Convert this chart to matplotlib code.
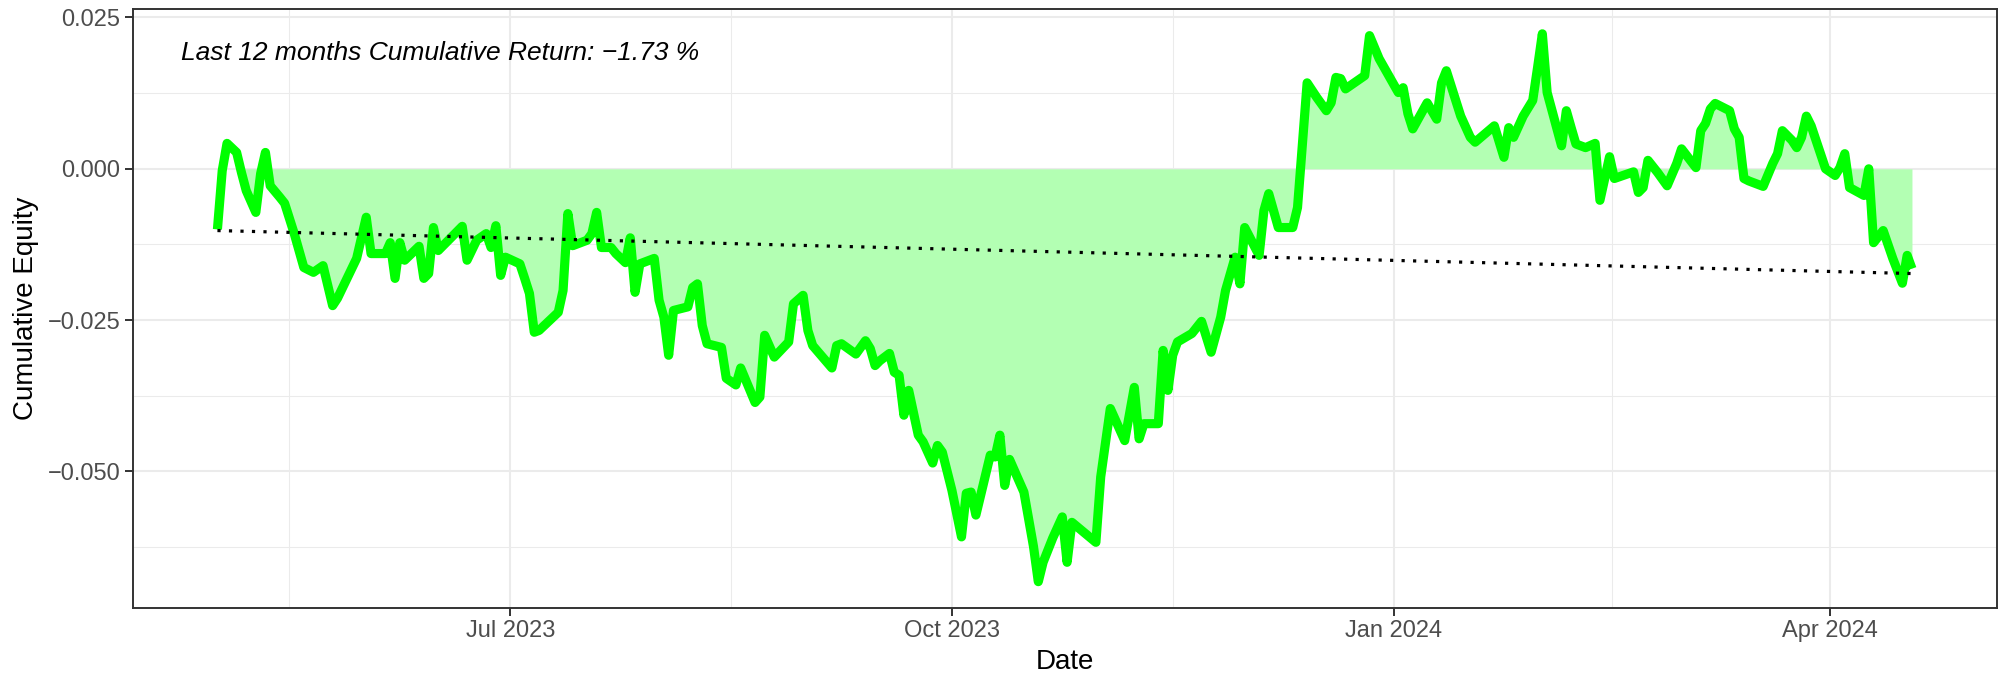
import matplotlib
matplotlib.use("Agg")
import matplotlib.pyplot as plt
import numpy as np
import pandas as pd

# ---------------- data ----------------
dates = [
    "2023-05-01", "2023-05-02", "2023-05-03", "2023-05-05", "2023-05-06", "2023-05-07",
    "2023-05-09", "2023-05-10", "2023-05-11", "2023-05-12", "2023-05-14", "2023-05-15",
    "2023-05-17", "2023-05-19", "2023-05-21", "2023-05-23", "2023-05-25", "2023-05-26",
    "2023-05-30", "2023-06-01", "2023-06-02", "2023-06-05", "2023-06-06", "2023-06-07",
    "2023-06-08", "2023-06-09", "2023-06-12", "2023-06-13", "2023-06-14", "2023-06-15",
    "2023-06-16", "2023-06-21", "2023-06-22", "2023-06-24", "2023-06-26", "2023-06-27",
    "2023-06-28", "2023-06-29", "2023-06-30", "2023-07-03", "2023-07-04", "2023-07-05",
    "2023-07-06", "2023-07-07", "2023-07-11", "2023-07-12", "2023-07-13", "2023-07-14",
    "2023-07-17", "2023-07-18", "2023-07-19", "2023-07-20", "2023-07-22", "2023-07-23",
    "2023-07-25", "2023-07-26", "2023-07-27", "2023-07-28", "2023-07-31", "2023-08-01",
    "2023-08-02", "2023-08-03", "2023-08-04", "2023-08-07", "2023-08-08", "2023-08-09",
    "2023-08-10", "2023-08-11", "2023-08-14", "2023-08-15", "2023-08-17", "2023-08-18",
    "2023-08-21", "2023-08-22", "2023-08-23", "2023-08-25", "2023-08-28", "2023-08-29",
    "2023-08-31", "2023-09-01", "2023-09-02", "2023-09-06", "2023-09-07", "2023-09-08",
    "2023-09-11", "2023-09-13", "2023-09-14", "2023-09-15", "2023-09-16", "2023-09-18",
    "2023-09-19", "2023-09-20", "2023-09-21", "2023-09-22", "2023-09-24", "2023-09-25",
    "2023-09-27", "2023-09-28", "2023-09-29", "2023-10-01", "2023-10-03", "2023-10-04",
    "2023-10-05", "2023-10-06", "2023-10-09", "2023-10-10", "2023-10-11", "2023-10-12",
    "2023-10-13", "2023-10-16", "2023-10-18", "2023-10-19", "2023-10-20", "2023-10-22",
    "2023-10-24", "2023-10-25", "2023-10-26", "2023-10-31", "2023-11-01", "2023-11-03",
    "2023-11-06", "2023-11-08", "2023-11-09", "2023-11-10", "2023-11-13", "2023-11-14",
    "2023-11-15", "2023-11-16", "2023-11-17", "2023-11-20", "2023-11-22", "2023-11-24",
    "2023-11-26", "2023-11-27", "2023-11-29", "2023-11-30", "2023-12-01", "2023-12-04",
    "2023-12-05", "2023-12-06", "2023-12-08", "2023-12-11", "2023-12-12", "2023-12-14",
    "2023-12-16", "2023-12-18", "2023-12-19", "2023-12-20", "2023-12-21", "2023-12-22",
    "2023-12-26", "2023-12-27", "2023-12-29", "2024-01-02", "2024-01-03", "2024-01-04",
    "2024-01-05", "2024-01-08", "2024-01-10", "2024-01-11", "2024-01-12", "2024-01-15",
    "2024-01-17", "2024-01-18", "2024-01-22", "2024-01-24", "2024-01-25", "2024-01-26",
    "2024-01-28", "2024-01-30", "2024-01-31", "2024-02-01", "2024-02-02", "2024-02-05",
    "2024-02-06", "2024-02-07", "2024-02-08", "2024-02-10", "2024-02-12", "2024-02-13",
    "2024-02-15", "2024-02-16", "2024-02-20", "2024-02-21", "2024-02-22", "2024-02-23",
    "2024-02-25", "2024-02-27", "2024-02-29", "2024-03-01", "2024-03-04", "2024-03-05",
    "2024-03-06", "2024-03-07", "2024-03-08", "2024-03-11", "2024-03-12", "2024-03-13",
    "2024-03-14", "2024-03-15", "2024-03-18", "2024-03-20", "2024-03-21", "2024-03-22",
    "2024-03-24", "2024-03-25", "2024-03-26", "2024-03-27", "2024-03-28", "2024-03-31",
    "2024-04-02", "2024-04-03", "2024-04-04", "2024-04-05", "2024-04-08", "2024-04-09",
    "2024-04-10", "2024-04-12", "2024-04-14", "2024-04-16", "2024-04-17", "2024-04-18",
]

equity = [
    -0.0100, -0.0003, 0.0042, 0.0027, -0.0006, -0.0036,
    -0.0072, -0.0008, 0.0027, -0.0028, -0.0047, -0.0057,
    -0.0107, -0.0163, -0.0171, -0.0160, -0.0226, -0.0214,
    -0.0148, -0.0080, -0.0140, -0.0140, -0.0122, -0.0181,
    -0.0122, -0.0151, -0.0128, -0.0181, -0.0173, -0.0097,
    -0.0135, -0.0095, -0.0151, -0.0118, -0.0107, -0.0130,
    -0.0094, -0.0176, -0.0146, -0.0157, -0.0181, -0.0206,
    -0.0270, -0.0267, -0.0237, -0.0201, -0.0074, -0.0127,
    -0.0118, -0.0107, -0.0072, -0.0130, -0.0130, -0.0140,
    -0.0155, -0.0114, -0.0204, -0.0157, -0.0148, -0.0217,
    -0.0245, -0.0308, -0.0234, -0.0228, -0.0196, -0.0190,
    -0.0259, -0.0289, -0.0295, -0.0346, -0.0357, -0.0329,
    -0.0386, -0.0377, -0.0275, -0.0311, -0.0286, -0.0223,
    -0.0209, -0.0267, -0.0292, -0.0329, -0.0292, -0.0289,
    -0.0306, -0.0284, -0.0297, -0.0325, -0.0317, -0.0305,
    -0.0336, -0.0341, -0.0407, -0.0366, -0.0440, -0.0451,
    -0.0486, -0.0457, -0.0468, -0.0531, -0.0608, -0.0536,
    -0.0534, -0.0572, -0.0473, -0.0476, -0.0440, -0.0523,
    -0.0480, -0.0534, -0.0624, -0.0682, -0.0650, -0.0610,
    -0.0575, -0.0650, -0.0584, -0.0617, -0.0509, -0.0396,
    -0.0449, -0.0361, -0.0446, -0.0421, -0.0421, -0.0300,
    -0.0366, -0.0308, -0.0286, -0.0272, -0.0252, -0.0303,
    -0.0245, -0.0201, -0.0146, -0.0190, -0.0097, -0.0143,
    -0.0069, -0.0041, -0.0097, -0.0097, -0.0064, 0.0142,
    0.0118, 0.0096, 0.0109, 0.0151, 0.0149, 0.0132,
    0.0154, 0.0220, 0.0182, 0.0126, 0.0134, 0.0091,
    0.0066, 0.0109, 0.0082, 0.0142, 0.0162, 0.0087,
    0.0052, 0.0044, 0.0071, 0.0019, 0.0068, 0.0052,
    0.0087, 0.0113, 0.0167, 0.0223, 0.0126, 0.0038,
    0.0096, 0.0068, 0.0041, 0.0035, 0.0042, -0.0052,
    0.0020, -0.0016, -0.0005, -0.0039, -0.0031, 0.0014,
    -0.0006, -0.0028, 0.0009, 0.0033, 0.0002, 0.0063,
    0.0075, 0.0099, 0.0108, 0.0096, 0.0066, 0.0052,
    -0.0016, -0.0020, -0.0029, 0.0009, 0.0025, 0.0063,
    0.0047, 0.0035, 0.0052, 0.0087, 0.0071, 0.0000,
    -0.0011, 0.0002, 0.0025, -0.0031, -0.0044, 0.0000,
    -0.0122, -0.0102, -0.0148, -0.0189, -0.0143, -0.0165,
]

trend_start = -0.0102      # dotted reference line, first date
trend_end = -0.0173        # dotted reference line, last date
fill_from = "2023-05-06"   # shaded area begins here

x_tick_dates = ["2023-07-01", "2023-10-01", "2024-01-01", "2024-04-01"]
x_tick_labels = ["Jul 2023", "Oct 2023", "Jan 2024", "Apr 2024"]
y_ticks = [-0.050, -0.025, 0.000, 0.025]
y_tick_labels = ["\u22120.050", "\u22120.025", "0.000", "0.025"]
y_minor_ticks = [-0.0625, -0.0375, -0.0125, 0.0125]

annotation = "Last 12 months Cumulative Return: \u22121.73 %"
x_title = "Date"
y_title = "Cumulative Equity"

# ---------------- figure ----------------
plt.rcParams["font.family"] = ["Liberation Sans", "DejaVu Sans"]

W, H = 2007, 678
fig = plt.figure(figsize=(W / 100, H / 100), dpi=100)
fig.patch.set_facecolor("white")

left, right, top, bottom = 132.7, 1996.7, 9.0, 607.7
ax = fig.add_axes([left / W, 1 - bottom / H, (right - left) / W, (bottom - top) / H])
ax.set_facecolor("white")

d = pd.to_datetime(dates)
y = np.array(equity)

mask = d >= pd.Timestamp(fill_from)
ax.fill_between(d[mask], y[mask], 0, color="#B3FFB3", linewidth=0, zorder=2)
ax.plot(d, y, color="#00FF00", linewidth=6.6, solid_joinstyle="round",
        solid_capstyle="butt", zorder=3)
ax.plot([d[0], d[-1]], [trend_start, trend_end], color="black", linewidth=2.3,
        linestyle=(0, (1.0, 2.6)), zorder=4)

# scales (ggplot-like 5% expansion)
span = d[-1] - d[0]
ax.set_xlim(d[0] - 0.05 * span, d[-1] + 0.05 * span)
ax.set_ylim(-0.0725, 0.0264)

tick_d = pd.to_datetime(x_tick_dates)
ax.set_xticks(tick_d)
ax.set_xticklabels(x_tick_labels)
minor_d = [tick_d[0] - (tick_d[1] - tick_d[0]) / 2] + \
          [tick_d[i] + (tick_d[i + 1] - tick_d[i]) / 2 for i in range(len(tick_d) - 1)]
ax.set_xticks(minor_d, minor=True)
ax.set_yticks(y_ticks)
ax.set_yticklabels(y_tick_labels)
ax.set_yticks(y_minor_ticks, minor=True)

ax.grid(which="major", color="#EBEBEB", linewidth=1.5, zorder=1)
ax.grid(which="minor", color="#EBEBEB", linewidth=0.75, zorder=1)
ax.set_axisbelow(True)

for s in ax.spines.values():
    s.set_color("#333333")
    s.set_linewidth(1.4)
    s.set_zorder(5)

ax.tick_params(which="major", length=5.8, width=1.4, color="#333333",
               labelsize=17, labelcolor="#4D4D4D", pad=3.2)
ax.tick_params(which="minor", length=0)

ax.set_xlabel(x_title, fontsize=20, color="black", labelpad=5)
ax.set_ylabel(y_title, fontsize=20, color="black", labelpad=6)

ax.text(0.026, 0.9265, annotation, transform=ax.transAxes, fontsize=19,
        fontstyle="italic", ha="left", va="center", color="black", zorder=6)

fig.savefig("out.png", dpi=100, facecolor="white")
